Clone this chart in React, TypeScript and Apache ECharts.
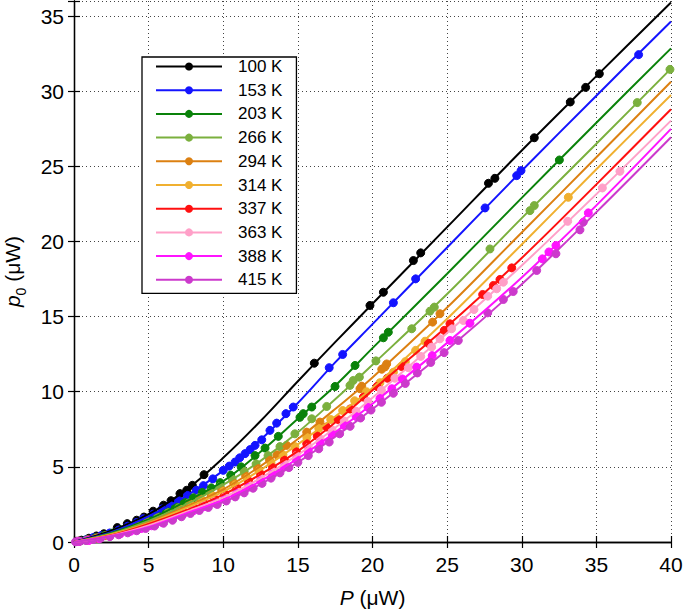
import React, { useEffect, useRef } from "react";
import * as echarts from "echarts";

// ---------- data ----------
const temps = ["100 K", "153 K", "203 K", "266 K", "294 K", "314 K", "337 K", "363 K", "388 K", "415 K"];
const colors = ["#000000", "#1414ff", "#0a820a", "#7bb03e", "#dc8012", "#f0b030", "#ff1010", "#ffa0c8", "#ff14ff", "#cc3acc"];

// fitted curves sampled at these P values
const xFit = [0, 2.5, 5, 7.5, 10, 12.5, 15, 17.5, 20, 25, 30, 35, 40];
const fit100 = [0, 0.75, 1.85, 3.45, 5.6, 8.05, 10.7, 13.3, 15.85, 20.95, 26.05, 31.0, 35.9];
const fit153 = [0, 0.65, 1.7, 3.05, 4.75, 6.8, 9.25, 11.95, 14.5, 19.6, 24.7, 29.7, 34.64];
const fit203 = [0, 0.6, 1.5, 2.7, 4.05, 6.0, 8.2, 10.4, 12.9, 17.85, 22.9, 27.9, 32.85];
const fit266 = [0, 0.55, 1.4, 2.5, 3.8, 5.4, 7.3, 9.5, 11.8, 16.5, 21.55, 26.5, 31.5];
const fit294 = [0, 0.5, 1.3, 2.35, 3.5, 5.05, 6.85, 8.85, 10.95, 15.6, 20.6, 25.6, 30.63];
const fit314 = [0, 0.5, 1.25, 2.25, 3.35, 4.8, 6.5, 8.35, 10.25, 14.85, 19.8, 24.8, 29.75];
const fit337 = [0, 0.45, 1.2, 2.1, 3.15, 4.5, 6.05, 7.95, 10.1, 14.35, 18.9, 23.8, 28.8];
const fit363 = [0, 0.42, 1.1, 2.0, 2.95, 4.25, 5.8, 7.6, 9.6, 13.9, 18.4, 23.15, 28.04];
const fit388 = [0, 0.4, 1.0, 1.9, 2.8, 4.05, 5.55, 7.3, 9.2, 13.25, 17.6, 22.4, 27.49];
const fit415 = [0, 0.38, 0.95, 1.8, 2.65, 3.85, 5.3, 7.0, 8.85, 12.8, 17.15, 21.95, 26.93];

// measured points [P, p0]
const pts100 = [[0.2, 0.05], [0.5, 0.12], [1.0, 0.25], [1.5, 0.4], [2.0, 0.55], [2.9, 0.96], [3.57, 1.22], [4.2, 1.45], [4.69, 1.66], [5.3, 2.05], [6.0, 2.45], [6.5, 2.75], [7.1, 3.22], [7.55, 3.44], [7.93, 3.77], [8.71, 4.48], [16.1, 11.9], [19.83, 15.74], [20.73, 16.62], [22.74, 18.73], [23.23, 19.24], [27.77, 23.87], [28.2, 24.2], [30.84, 26.9], [33.25, 29.28], [34.28, 30.25], [35.2, 31.16]];
const pts153 = [[0.3, 0.05], [0.8, 0.15], [1.3, 0.3], [1.8, 0.42], [2.4, 0.6], [3.0, 0.8], [3.6, 1.05], [4.2, 1.3], [4.64, 1.55], [5.3, 1.85], [5.9, 2.2], [6.43, 2.45], [7.0, 2.75], [7.6, 3.1], [8.2, 3.45], [8.67, 3.75], [9.3, 4.2], [10.0, 4.77], [10.4, 5.05], [10.79, 5.32], [11.1, 5.6], [11.46, 5.88], [11.8, 6.15], [12.13, 6.43], [12.58, 6.8], [13.13, 7.43], [13.58, 7.91], [14.2, 8.54], [14.69, 8.98], [17.1, 11.6], [18.0, 12.48], [21.4, 15.92], [22.89, 17.51], [27.54, 22.23], [29.66, 24.38], [29.95, 24.71], [37.83, 32.43]];
const pts203 = [[0.3, 0.04], [0.8, 0.13], [1.4, 0.27], [2.0, 0.42], [2.6, 0.6], [3.2, 0.8], [3.8, 1.02], [4.4, 1.25], [5.0, 1.5], [5.6, 1.75], [6.2, 2.05], [6.8, 2.35], [7.4, 2.65], [8.0, 2.95], [8.6, 3.3], [9.2, 3.6], [9.8, 3.95], [10.5, 4.45], [11.2, 5.0], [12.13, 5.75], [12.8, 6.25], [13.69, 7.03], [15.14, 8.3], [15.36, 8.54], [15.93, 8.98], [17.49, 10.35], [18.83, 11.75], [20.73, 13.59], [21.06, 13.96], [32.52, 25.42]];
const pts266 = [[0.3, 0.04], [0.9, 0.13], [1.5, 0.27], [2.1, 0.42], [2.8, 0.62], [3.5, 0.85], [4.2, 1.1], [4.9, 1.37], [5.6, 1.65], [6.3, 1.95], [7.0, 2.28], [7.7, 2.6], [8.4, 2.95], [9.1, 3.3], [9.8, 3.7], [10.6, 4.2], [11.4, 4.7], [12.2, 5.2], [13.0, 5.75], [13.8, 6.35], [14.8, 7.2], [15.93, 8.2], [16.93, 9.02], [18.49, 10.42], [18.71, 10.75], [19.12, 10.97], [20.23, 12.05], [22.63, 14.19], [23.85, 15.36], [24.14, 15.63], [27.87, 19.5], [30.55, 22.05], [30.84, 22.39], [37.74, 29.24], [39.93, 31.45]];
const pts294 = [[0.3, 0.04], [0.9, 0.12], [1.5, 0.25], [2.2, 0.42], [2.9, 0.6], [3.6, 0.82], [4.3, 1.07], [5.0, 1.3], [5.7, 1.58], [6.4, 1.88], [7.1, 2.2], [7.8, 2.5], [8.5, 2.85], [9.2, 3.15], [9.9, 3.45], [10.7, 3.92], [11.5, 4.4], [12.3, 4.9], [13.1, 5.45], [13.6, 5.8], [14.25, 6.43], [15.59, 7.31], [16.48, 7.98], [19.16, 10.2], [19.28, 10.37], [20.62, 11.5], [20.84, 11.65], [20.95, 11.85], [24.03, 14.63], [24.52, 15.19]];
const pts314 = [[0.3, 0.04], [0.9, 0.12], [1.6, 0.26], [2.3, 0.42], [3.0, 0.6], [3.7, 0.82], [4.4, 1.06], [5.1, 1.3], [5.8, 1.57], [6.5, 1.85], [7.2, 2.13], [7.9, 2.45], [8.6, 2.75], [9.3, 3.05], [10.0, 3.35], [10.8, 3.8], [11.6, 4.25], [12.4, 4.75], [13.2, 5.25], [14.0, 5.8], [14.8, 6.35], [15.6, 6.95], [16.4, 7.55], [17.2, 8.15], [18.0, 8.75], [18.8, 9.4], [19.6, 10.0], [20.5, 10.6], [21.4, 11.3], [22.2, 12.0], [22.89, 12.75], [23.52, 13.36], [33.12, 22.94]];
const pts337 = [[0.3, 0.04], [1.0, 0.13], [1.7, 0.27], [2.4, 0.43], [3.1, 0.6], [3.8, 0.8], [4.5, 1.03], [5.2, 1.27], [5.9, 1.52], [6.6, 1.78], [7.3, 2.03], [8.0, 2.3], [8.7, 2.6], [9.4, 2.9], [10.1, 3.2], [10.9, 3.6], [11.7, 4.05], [12.5, 4.5], [13.3, 4.95], [14.1, 5.45], [14.9, 6.0], [15.59, 6.54], [16.3, 7.05], [16.93, 7.65], [17.7, 8.15], [18.5, 8.85], [19.39, 9.64], [20.3, 10.35], [21.0, 10.9], [21.95, 11.68], [23.74, 13.23], [24.81, 14.08], [25.19, 14.52], [27.38, 16.47], [28.1, 17.07], [28.54, 17.47], [29.33, 18.24]];
const pts363 = [[0.3, 0.04], [1.0, 0.12], [1.7, 0.25], [2.4, 0.4], [3.1, 0.56], [3.8, 0.75], [4.5, 0.95], [5.2, 1.17], [5.9, 1.4], [6.6, 1.65], [7.3, 1.92], [8.0, 2.18], [8.7, 2.45], [9.4, 2.72], [10.1, 3.0], [10.9, 3.4], [11.7, 3.8], [12.5, 4.25], [13.3, 4.7], [14.1, 5.2], [14.9, 5.75], [15.7, 6.3], [16.5, 6.85], [17.3, 7.45], [18.1, 8.05], [18.9, 8.7], [19.7, 9.35], [20.6, 10.1], [21.5, 10.9], [22.4, 11.6], [23.23, 12.35], [23.96, 12.97], [24.52, 13.52], [25.3, 14.19], [26.09, 14.74], [26.8, 15.47], [27.72, 16.36], [28.32, 16.85], [28.77, 17.29], [33.08, 21.34], [35.4, 23.56], [36.58, 24.67]];
const pts388 = [[0.3, 0.04], [1.0, 0.11], [1.7, 0.23], [2.4, 0.38], [3.1, 0.54], [3.8, 0.72], [4.5, 0.9], [5.2, 1.08], [5.9, 1.3], [6.6, 1.55], [7.3, 1.83], [8.0, 2.08], [8.7, 2.35], [9.4, 2.6], [10.1, 2.85], [10.9, 3.25], [11.7, 3.65], [12.5, 4.05], [13.3, 4.5], [14.1, 5.0], [14.9, 5.5], [15.7, 6.05], [16.5, 6.6], [17.3, 7.15], [18.1, 7.75], [18.9, 8.35], [19.7, 8.95], [20.5, 9.55], [21.3, 10.2], [22.0, 10.85], [22.96, 11.64], [24.0, 12.4], [25.19, 13.41], [26.53, 14.56], [31.38, 18.84], [31.82, 19.3], [32.29, 19.73], [34.46, 21.9]];
const pts415 = [[0.1, 0.01], [0.4, 0.05], [0.8, 0.1], [1.3, 0.17], [1.8, 0.26], [2.4, 0.36], [3.0, 0.48], [3.6, 0.61], [4.2, 0.75], [4.8, 0.9], [5.4, 1.06], [6.0, 1.25], [6.6, 1.45], [7.2, 1.68], [7.8, 1.9], [8.4, 2.1], [9.0, 2.3], [9.6, 2.5], [10.2, 2.73], [10.8, 3.0], [11.4, 3.27], [12.0, 3.58], [12.6, 3.9], [13.2, 4.25], [13.8, 4.6], [14.4, 4.95], [15.0, 5.3], [15.7, 5.75], [16.4, 6.2], [17.1, 6.65], [17.8, 7.2], [18.5, 7.7], [19.2, 8.25], [19.9, 8.78], [20.6, 9.3], [21.4, 9.9], [22.2, 10.55], [23.0, 11.25], [23.9, 11.95], [24.8, 12.6], [25.75, 13.41], [27.72, 15.25], [28.77, 16.14], [29.43, 16.67], [31.0, 18.07], [32.29, 19.18], [33.9, 20.77], [34.12, 21.28]];

const fits = [fit100, fit153, fit203, fit266, fit294, fit314, fit337, fit363, fit388, fit415];
const points = [pts100, pts153, pts203, pts266, pts294, pts314, pts337, pts363, pts388, pts415];

const xTicks = { min: 0, max: 40, interval: 5 };
const yTicks = { min: 0, max: 36, interval: 5 };

const FONT = "'Liberation Sans', Arial, Helvetica, sans-serif";

export default function App() {
  const ref = useRef<HTMLDivElement>(null);
  useEffect(() => {
    if (!ref.current) return;
    const chart = echarts.init(ref.current, undefined, { renderer: "svg" });
    const series: any[] = [];
    temps.forEach((name, i) => {
      series.push({
        type: "line",
        name,
        data: xFit.map((x, k) => [x, fits[i][k]]),
        smooth: 0.35,
        symbol: "circle",
        showSymbol: false,
        lineStyle: { color: colors[i], width: 2 },
        itemStyle: { color: colors[i] },
        xAxisIndex: 0,
        yAxisIndex: 0,
        silent: true,
      });
      series.push({
        type: "scatter",
        name,
        data: points[i],
        symbol: "circle",
        symbolSize: 8,
        itemStyle: { color: colors[i], borderColor: colors[i], borderWidth: 1, opacity: 1 },
        xAxisIndex: 0,
        yAxisIndex: 0,
        silent: true,
      });
    });

    const gridLine = { show: true, lineStyle: { color: "#444", width: 1, type: [1, 3] } };
    const axisLine = { show: true, lineStyle: { color: "#000", width: 1.3 } };
    const tick = { show: true, inside: true, length: 6, lineStyle: { color: "#000", width: 1.2 } };

    chart.setOption({
      animation: false,
      grid: { left: 74, right: 14, top: 1, bottom: 67, containLabel: false, outerBoundsMode: "none" },
      legend: {
        data: temps,
        orient: "vertical",
        left: 142,
        top: 57,
        padding: [1, 14, 5, 13],
        itemWidth: 66,
        itemHeight: 10,
        itemGap: 6.7,
        borderColor: "#000",
        borderWidth: 1.3,
        borderRadius: 0,
        backgroundColor: "#fff",
        selectedMode: false,
        textStyle: { fontSize: 17, fontFamily: FONT, color: "#000", padding: [0, 0, 0, 11] },
      },
      xAxis: [
        {
          type: "value",
          ...xTicks,
          position: "bottom",
          axisLine,
          axisTick: tick,
          splitLine: gridLine,
          axisLabel: { fontSize: 21, fontFamily: FONT, color: "#000", margin: 12 },
          name: "{i|P} (\u03bcW)",
          nameLocation: "middle",
          nameGap: 45,
          nameTextStyle: {
            fontSize: 21,
            fontFamily: FONT,
            color: "#000",
            rich: { i: { fontSize: 21, fontFamily: FONT, fontStyle: "italic", color: "#000" } },
          },
        },
        {
          type: "value",
          ...xTicks,
          position: "top",
          axisLine,
          axisTick: tick,
          splitLine: { show: false },
          axisLabel: { show: false },
        },
      ],
      yAxis: [
        {
          type: "value",
          ...yTicks,
          position: "left",
          axisLine,
          axisTick: tick,
          splitLine: gridLine,
          axisLabel: {
            fontSize: 21,
            fontFamily: FONT,
            color: "#000",
            margin: 10,
            formatter: (v: number) => (v % 5 === 0 ? String(v) : ""),
          },
          name: "{i|p}{s|0}{n| (\u03bcW)}",
          nameLocation: "middle",
          nameGap: 51,
          nameTextStyle: {
            fontSize: 21,
            fontFamily: FONT,
            color: "#000",
            rich: {
              i: { fontSize: 21, fontFamily: FONT, fontStyle: "italic", color: "#000", lineHeight: 20, verticalAlign: "bottom" },
              s: { fontSize: 14, fontFamily: FONT, color: "#000", lineHeight: 20, verticalAlign: "bottom", padding: [0, 0, -5, 0] },
              n: { fontSize: 21, fontFamily: FONT, color: "#000", lineHeight: 20, verticalAlign: "bottom" },
            },
          },
        },
        {
          type: "value",
          ...yTicks,
          position: "right",
          axisLine,
          axisTick: tick,
          splitLine: { show: false },
          axisLabel: { show: false },
        },
      ],
      series,
    });
    return () => chart.dispose();
  }, []);
  return (
    <div
      ref={ref}
      style={{ position: "fixed", left: 0, top: 0, width: 685, height: 609, background: "#fff" }}
    />
  );
}
